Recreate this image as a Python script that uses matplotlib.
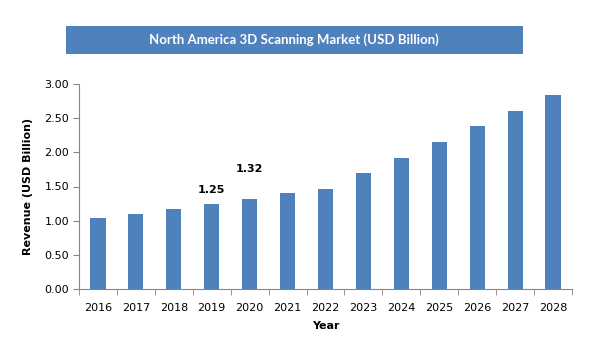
import matplotlib
matplotlib.use("Agg")
import matplotlib.pyplot as plt
from matplotlib.patches import Rectangle

years = ["2016", "2017", "2018", "2019", "2020", "2021", "2022", "2023", "2024", "2025", "2026", "2027", "2028"]
revenue = [1.04, 1.10, 1.17, 1.25, 1.32, 1.40, 1.46, 1.70, 1.92, 2.15, 2.39, 2.61, 2.84]
labelled = {"2019": "1.25", "2020": "1.32"}
label_offsets = {"2019": 6, "2020": 18}
yticks = [0.0, 0.5, 1.0, 1.5, 2.0, 2.5, 3.0]
title = "North America 3D Scanning Market (USD Billion)"

bar_color = "#4F81BD"
fig = plt.figure(figsize=(6.07, 3.54), dpi=100)
ax = fig.add_axes([79/607, 1-289/354, (572-79)/607, (289-84)/354])

x = list(range(len(years)))
ax.bar(x, revenue, width=0.4, color=bar_color, zorder=2)

for i, (yr, v) in enumerate(zip(years, revenue)):
    if yr in labelled:
        ax.annotate(labelled[yr], (i, v), xytext=(0, label_offsets[yr]), textcoords="offset points",
                    ha="center", va="bottom", fontsize=8, fontweight="bold", family="DejaVu Sans")

ax.set_xlim(-0.5, len(years) - 0.5)
ax.set_ylim(0, 3.0)
ax.set_yticks(yticks)
ax.set_yticklabels([f"{t:.2f}" for t in yticks], fontsize=8)
ax.set_xticks(x)
ax.set_xticklabels(years, fontsize=8)
ax.set_xticks([i - 0.5 for i in range(len(years) + 1)], minor=True)
ax.tick_params(axis="x", which="major", length=0, pad=10)
ax.tick_params(axis="x", which="minor", length=4, color="#868686")
ax.tick_params(axis="y", length=4, color="#868686", pad=3)

for s in ["top", "right"]:
    ax.spines[s].set_visible(False)
for s in ["left", "bottom"]:
    ax.spines[s].set_color("#868686")
    ax.spines[s].set_linewidth(0.8)

ax.set_xlabel("Year", fontsize=8, fontweight="bold", labelpad=6)
ax.set_ylabel("Revenue (USD Billion)", fontsize=8, fontweight="bold", labelpad=8)

fig.patches.append(Rectangle((66/607, 1-54/354), (523-66)/607, 28/354, transform=fig.transFigure,
                             facecolor=bar_color, edgecolor="none"))
fig.text(294/607, 1-40/354, title, color="white", fontsize=9.5, fontweight="bold",
         ha="center", va="center", family=["Lato", "DejaVu Sans"])

fig.savefig("out.png", dpi=100)
